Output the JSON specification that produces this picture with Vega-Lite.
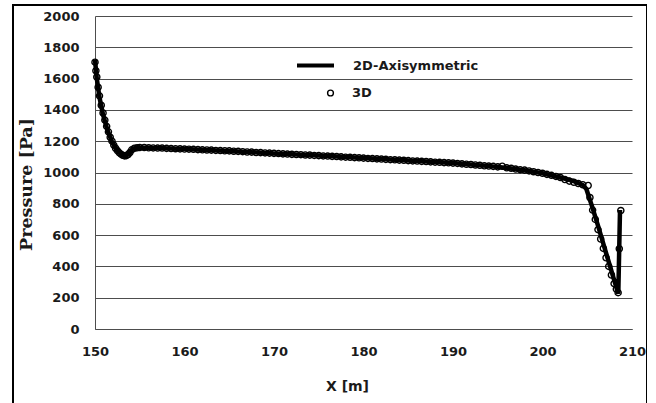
{
  "$schema": "https://vega.github.io/schema/vega-lite/v6.json",
  "width": 634,
  "height": 420,
  "autosize": {"type": "none"},
  "padding": {"left": 13, "top": 5, "right": 0, "bottom": 0},
  "background": "white",
  "config": {
    "view": {"stroke": "black", "strokeWidth": 2}
  },
  "datasets": {
    "curve2d": [
      {"x": 150.0, "p": 1720, "curve": "2D-Axisymmetric"},
      {"x": 150.2, "p": 1600, "curve": "2D-Axisymmetric"},
      {"x": 150.5, "p": 1480, "curve": "2D-Axisymmetric"},
      {"x": 150.9, "p": 1370, "curve": "2D-Axisymmetric"},
      {"x": 151.4, "p": 1270, "curve": "2D-Axisymmetric"},
      {"x": 151.9, "p": 1195, "curve": "2D-Axisymmetric"},
      {"x": 152.5, "p": 1140, "curve": "2D-Axisymmetric"},
      {"x": 153.0, "p": 1112, "curve": "2D-Axisymmetric"},
      {"x": 153.4, "p": 1105, "curve": "2D-Axisymmetric"},
      {"x": 153.8, "p": 1120, "curve": "2D-Axisymmetric"},
      {"x": 154.2, "p": 1152, "curve": "2D-Axisymmetric"},
      {"x": 155.0, "p": 1160, "curve": "2D-Axisymmetric"},
      {"x": 160.0, "p": 1150, "curve": "2D-Axisymmetric"},
      {"x": 165.0, "p": 1138, "curve": "2D-Axisymmetric"},
      {"x": 170.0, "p": 1122, "curve": "2D-Axisymmetric"},
      {"x": 175.0, "p": 1108, "curve": "2D-Axisymmetric"},
      {"x": 180.0, "p": 1092, "curve": "2D-Axisymmetric"},
      {"x": 185.0, "p": 1076, "curve": "2D-Axisymmetric"},
      {"x": 190.0, "p": 1060, "curve": "2D-Axisymmetric"},
      {"x": 195.0, "p": 1036, "curve": "2D-Axisymmetric"},
      {"x": 198.0, "p": 1015, "curve": "2D-Axisymmetric"},
      {"x": 200.0, "p": 995, "curve": "2D-Axisymmetric"},
      {"x": 202.0, "p": 968, "curve": "2D-Axisymmetric"},
      {"x": 203.5, "p": 945, "curve": "2D-Axisymmetric"},
      {"x": 204.5, "p": 920, "curve": "2D-Axisymmetric"},
      {"x": 204.9, "p": 895, "curve": "2D-Axisymmetric"},
      {"x": 205.5, "p": 790, "curve": "2D-Axisymmetric"},
      {"x": 206.2, "p": 660, "curve": "2D-Axisymmetric"},
      {"x": 206.9, "p": 525, "curve": "2D-Axisymmetric"},
      {"x": 207.6, "p": 390, "curve": "2D-Axisymmetric"},
      {"x": 208.1, "p": 295, "curve": "2D-Axisymmetric"},
      {"x": 208.47, "p": 225, "curve": "2D-Axisymmetric"},
      {"x": 208.66, "p": 760, "curve": "2D-Axisymmetric"}
    ],
    "points3d": [
      {"x": 150.0, "p": 1705, "set": "3D"},
      {"x": 150.1, "p": 1650, "set": "3D"},
      {"x": 150.2, "p": 1610, "set": "3D"},
      {"x": 150.35, "p": 1545, "set": "3D"},
      {"x": 150.5, "p": 1490, "set": "3D"},
      {"x": 150.7, "p": 1430, "set": "3D"},
      {"x": 150.9, "p": 1380, "set": "3D"},
      {"x": 151.1, "p": 1335, "set": "3D"},
      {"x": 151.3, "p": 1295, "set": "3D"},
      {"x": 151.5, "p": 1260, "set": "3D"},
      {"x": 151.7, "p": 1225, "set": "3D"},
      {"x": 151.9, "p": 1200, "set": "3D"},
      {"x": 152.1, "p": 1175, "set": "3D"},
      {"x": 152.3, "p": 1155, "set": "3D"},
      {"x": 152.5, "p": 1140, "set": "3D"},
      {"x": 152.7, "p": 1127, "set": "3D"},
      {"x": 152.9, "p": 1117, "set": "3D"},
      {"x": 153.1, "p": 1110, "set": "3D"},
      {"x": 153.3, "p": 1106, "set": "3D"},
      {"x": 153.5, "p": 1108, "set": "3D"},
      {"x": 153.7, "p": 1115, "set": "3D"},
      {"x": 153.9, "p": 1128, "set": "3D"},
      {"x": 154.1, "p": 1145, "set": "3D"},
      {"x": 154.4, "p": 1155, "set": "3D"},
      {"x": 154.7, "p": 1158, "set": "3D"},
      {"x": 155.0, "p": 1160, "set": "3D"},
      {"x": 155.5, "p": 1160, "set": "3D"},
      {"x": 156.0, "p": 1158, "set": "3D"},
      {"x": 156.5, "p": 1157, "set": "3D"},
      {"x": 157.0, "p": 1156, "set": "3D"},
      {"x": 157.5, "p": 1156, "set": "3D"},
      {"x": 158.0, "p": 1154, "set": "3D"},
      {"x": 158.5, "p": 1153, "set": "3D"},
      {"x": 159.0, "p": 1152, "set": "3D"},
      {"x": 159.5, "p": 1151, "set": "3D"},
      {"x": 160.0, "p": 1150, "set": "3D"},
      {"x": 160.5, "p": 1149, "set": "3D"},
      {"x": 161.0, "p": 1148, "set": "3D"},
      {"x": 161.5, "p": 1146, "set": "3D"},
      {"x": 162.0, "p": 1145, "set": "3D"},
      {"x": 162.5, "p": 1144, "set": "3D"},
      {"x": 163.0, "p": 1143, "set": "3D"},
      {"x": 163.5, "p": 1141, "set": "3D"},
      {"x": 164.0, "p": 1140, "set": "3D"},
      {"x": 164.5, "p": 1139, "set": "3D"},
      {"x": 165.0, "p": 1138, "set": "3D"},
      {"x": 165.5, "p": 1136, "set": "3D"},
      {"x": 166.0, "p": 1135, "set": "3D"},
      {"x": 166.5, "p": 1133, "set": "3D"},
      {"x": 167.0, "p": 1131, "set": "3D"},
      {"x": 167.5, "p": 1130, "set": "3D"},
      {"x": 168.0, "p": 1128, "set": "3D"},
      {"x": 168.5, "p": 1127, "set": "3D"},
      {"x": 169.0, "p": 1125, "set": "3D"},
      {"x": 169.5, "p": 1124, "set": "3D"},
      {"x": 170.0, "p": 1122, "set": "3D"},
      {"x": 170.5, "p": 1121, "set": "3D"},
      {"x": 171.0, "p": 1119, "set": "3D"},
      {"x": 171.5, "p": 1118, "set": "3D"},
      {"x": 172.0, "p": 1116, "set": "3D"},
      {"x": 172.5, "p": 1115, "set": "3D"},
      {"x": 173.0, "p": 1114, "set": "3D"},
      {"x": 173.5, "p": 1112, "set": "3D"},
      {"x": 174.0, "p": 1111, "set": "3D"},
      {"x": 174.5, "p": 1109, "set": "3D"},
      {"x": 175.0, "p": 1108, "set": "3D"},
      {"x": 175.5, "p": 1106, "set": "3D"},
      {"x": 176.0, "p": 1105, "set": "3D"},
      {"x": 176.5, "p": 1103, "set": "3D"},
      {"x": 177.0, "p": 1102, "set": "3D"},
      {"x": 177.5, "p": 1100, "set": "3D"},
      {"x": 178.0, "p": 1098, "set": "3D"},
      {"x": 178.5, "p": 1097, "set": "3D"},
      {"x": 179.0, "p": 1095, "set": "3D"},
      {"x": 179.5, "p": 1094, "set": "3D"},
      {"x": 180.0, "p": 1092, "set": "3D"},
      {"x": 180.5, "p": 1090, "set": "3D"},
      {"x": 181.0, "p": 1089, "set": "3D"},
      {"x": 181.5, "p": 1087, "set": "3D"},
      {"x": 182.0, "p": 1086, "set": "3D"},
      {"x": 182.5, "p": 1084, "set": "3D"},
      {"x": 183.0, "p": 1082, "set": "3D"},
      {"x": 183.5, "p": 1081, "set": "3D"},
      {"x": 184.0, "p": 1079, "set": "3D"},
      {"x": 184.5, "p": 1078, "set": "3D"},
      {"x": 185.0, "p": 1076, "set": "3D"},
      {"x": 185.5, "p": 1074, "set": "3D"},
      {"x": 186.0, "p": 1073, "set": "3D"},
      {"x": 186.5, "p": 1071, "set": "3D"},
      {"x": 187.0, "p": 1070, "set": "3D"},
      {"x": 187.5, "p": 1068, "set": "3D"},
      {"x": 188.0, "p": 1066, "set": "3D"},
      {"x": 188.5, "p": 1065, "set": "3D"},
      {"x": 189.0, "p": 1063, "set": "3D"},
      {"x": 189.5, "p": 1062, "set": "3D"},
      {"x": 190.0, "p": 1060, "set": "3D"},
      {"x": 190.5, "p": 1058, "set": "3D"},
      {"x": 191.0, "p": 1055, "set": "3D"},
      {"x": 191.5, "p": 1053, "set": "3D"},
      {"x": 192.0, "p": 1051, "set": "3D"},
      {"x": 192.5, "p": 1048, "set": "3D"},
      {"x": 193.0, "p": 1046, "set": "3D"},
      {"x": 193.5, "p": 1043, "set": "3D"},
      {"x": 194.0, "p": 1041, "set": "3D"},
      {"x": 194.5, "p": 1039, "set": "3D"},
      {"x": 195.0, "p": 1036, "set": "3D"},
      {"x": 195.5, "p": 1040, "set": "3D"},
      {"x": 196.0, "p": 1030, "set": "3D"},
      {"x": 196.5, "p": 1027, "set": "3D"},
      {"x": 197.0, "p": 1022, "set": "3D"},
      {"x": 197.5, "p": 1018, "set": "3D"},
      {"x": 198.0, "p": 1015, "set": "3D"},
      {"x": 198.5, "p": 1010, "set": "3D"},
      {"x": 199.0, "p": 1005, "set": "3D"},
      {"x": 199.5, "p": 1000, "set": "3D"},
      {"x": 200.0, "p": 995, "set": "3D"},
      {"x": 200.5, "p": 988, "set": "3D"},
      {"x": 201.0, "p": 982, "set": "3D"},
      {"x": 201.5, "p": 975, "set": "3D"},
      {"x": 202.0, "p": 968, "set": "3D"},
      {"x": 202.5, "p": 955, "set": "3D"},
      {"x": 203.0, "p": 945, "set": "3D"},
      {"x": 203.5, "p": 938, "set": "3D"},
      {"x": 204.0, "p": 930, "set": "3D"},
      {"x": 204.5, "p": 922, "set": "3D"},
      {"x": 205.1, "p": 917, "set": "3D"},
      {"x": 205.3, "p": 840, "set": "3D"},
      {"x": 205.6, "p": 760, "set": "3D"},
      {"x": 205.9, "p": 700, "set": "3D"},
      {"x": 206.2, "p": 635, "set": "3D"},
      {"x": 206.5, "p": 575, "set": "3D"},
      {"x": 206.8, "p": 515, "set": "3D"},
      {"x": 207.1, "p": 455, "set": "3D"},
      {"x": 207.4, "p": 400, "set": "3D"},
      {"x": 207.7, "p": 345, "set": "3D"},
      {"x": 208.0, "p": 290, "set": "3D"},
      {"x": 208.25, "p": 255, "set": "3D"},
      {"x": 208.45, "p": 232, "set": "3D"},
      {"x": 208.58, "p": 513, "set": "3D"},
      {"x": 208.75, "p": 757, "set": "3D"}
    ]
  },
  "encoding": {
    "x": {
      "field": "x",
      "type": "quantitative",
      "scale": {"domain": [150, 210], "range": [82, 619], "nice": false, "zero": false},
      "axis": {
        "values": [150, 160, 170, 180, 190, 200, 210],
        "format": "d",
        "grid": false,
        "ticks": false,
        "offset": -96,
        "domainColor": "#4d4d4d",
        "domainWidth": 1,
        "labelFont": "DejaVu Sans",
        "labelFontWeight": "bold",
        "labelFontSize": 13,
        "labelColor": "#1a1a1a",
        "labelPadding": 16,
        "labelFlush": false,
        "labelOverlap": false,
        "title": "X [m]",
        "titleFont": "DejaVu Sans",
        "titleFontWeight": "bold",
        "titleFontSize": 14,
        "titleColor": "#1a1a1a",
        "titleX": 334,
        "titleY": 57,
        "titleAlign": "center",
        "titleBaseline": "middle"
      }
    },
    "y": {
      "field": "p",
      "type": "quantitative",
      "scale": {"domain": [0, 2000], "range": [324, 11], "nice": false},
      "axis": {
        "values": [0, 200, 400, 600, 800, 1000, 1200, 1400, 1600, 1800, 2000],
        "format": "d",
        "grid": true,
        "gridColor": "#4d4d4d",
        "gridWidth": 1,
        "gridOpacity": 1,
        "ticks": false,
        "offset": -82,
        "domainColor": "#4d4d4d",
        "domainWidth": 1,
        "labelFont": "DejaVu Sans",
        "labelFontWeight": "bold",
        "labelFontSize": 13,
        "labelColor": "#1a1a1a",
        "labelPadding": 16,
        "labelOverlap": false,
        "title": "Pressure [Pa]",
        "titleFont": "DejaVu Serif",
        "titleFontWeight": "bold",
        "titleFontSize": 17.5,
        "titleColor": "#1a1a1a",
        "titleAngle": -90,
        "titleX": -69,
        "titleY": 179,
        "titleAlign": "center",
        "titleBaseline": "middle"
      }
    }
  },
  "layer": [
    {
      "data": {"name": "curve2d"},
      "mark": {"type": "line", "strokeWidth": 4.5},
      "encoding": {
        "color": {
          "field": "curve",
          "type": "nominal",
          "scale": {"domain": ["2D-Axisymmetric"], "range": ["black"]},
          "legend": {
            "orient": "none",
            "legendX": 282,
            "legendY": 40,
            "title": null,
            "padding": 0,
            "symbolType": "stroke",
            "symbolSize": 1369,
            "symbolStrokeWidth": 4,
            "symbolStrokeColor": "black",
            "labelFont": "DejaVu Sans",
            "labelFontWeight": "bold",
            "labelFontSize": 13,
            "labelColor": "#1a1a1a",
            "labelOffset": 17
          }
        }
      }
    },
    {
      "data": {"name": "points3d"},
      "mark": {"type": "point", "filled": false, "size": 38, "strokeWidth": 1.4, "color": "black", "opacity": 1},
      "encoding": {
        "shape": {
          "field": "set",
          "type": "nominal",
          "scale": {"domain": ["3D"], "range": ["circle"]},
          "legend": {
            "orient": "none",
            "legendX": 311,
            "legendY": 81.5,
            "title": null,
            "padding": 0,
            "symbolType": "circle",
            "symbolSize": 34,
            "symbolStrokeWidth": 1.4,
            "symbolStrokeColor": "black",
            "symbolFillColor": "transparent",
            "labelFont": "DejaVu Sans",
            "labelFontWeight": "bold",
            "labelFontSize": 13,
            "labelColor": "#1a1a1a",
            "labelOffset": 15
          }
        }
      }
    }
  ]
}
